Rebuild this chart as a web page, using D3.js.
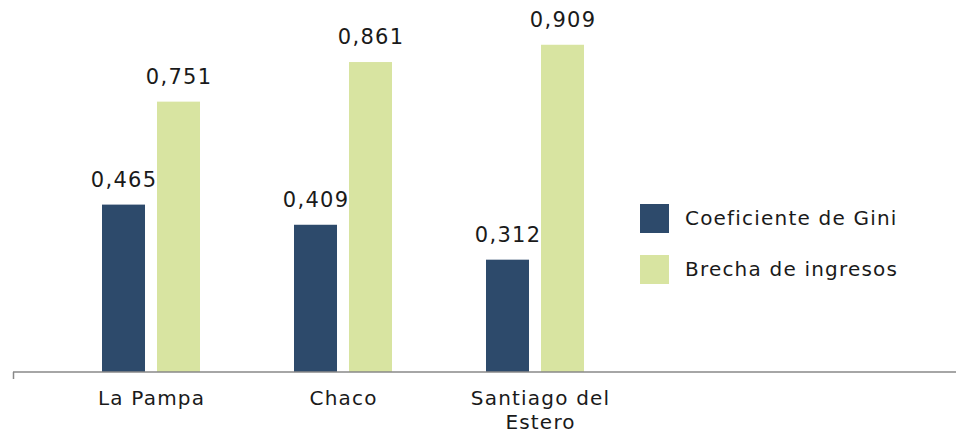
<!DOCTYPE html>
<html><head><meta charset="utf-8">
<script src="https://cdn.jsdelivr.net/npm/d3@7"></script>
<style>body{margin:0;background:#fff}svg{display:block;font-family:"DejaVu Sans",sans-serif}</style>
</head><body><svg id="c" width="956" height="434"></svg>
<script>
const categories = ["La Pampa", "Chaco", "Santiago del Estero"];
const categoryLines = [["La Pampa"], ["Chaco"], ["Santiago del", "Estero"]];
const seriesNames = ["Coeficiente de Gini", "Brecha de ingresos"];
const gini = [0.465, 0.409, 0.312];
const brecha = [0.751, 0.861, 0.909];
const colors = ["#2d4a6b", "#d8e4a1"];

const svg = d3.select("#c");
const x = d3.scaleBand().domain(categories).range([55, 631]).padding(0);
const xs = d3.scaleBand().domain(seriesNames).range([47, 145]).paddingInner(0.218).paddingOuter(0);
const y = d3.scaleLinear().domain([0, 1]).range([372, 12]);
const fmt = v => d3.format(".3f")(v).replace(".", ",");

const data = [];
categories.forEach((c, i) => {
  data.push({c, s: seriesNames[0], v: gini[i]});
  data.push({c, s: seriesNames[1], v: brecha[i]});
});

svg.selectAll("rect.bar").data(data).join("rect").attr("class","bar")
  .attr("x", d => x(d.c) + xs(d.s)).attr("width", xs.bandwidth())
  .attr("y", d => y(d.v)).attr("height", d => y(0) - y(d.v))
  .attr("fill", d => colors[seriesNames.indexOf(d.s)]);

svg.selectAll("text.val").data(data).join("text").attr("class","val")
  .attr("x", d => x(d.c) + xs(d.s) + xs.bandwidth()/2 + 0.6)
  .attr("y", d => y(d.v) - 18).attr("text-anchor","middle")
  .attr("font-size", 21).attr("letter-spacing", 1.3).attr("fill", "#1a1a1a").text(d => fmt(d.v));

// axis
svg.append("line").attr("x1", 13).attr("x2", 956).attr("y1", y(0)).attr("y2", y(0))
  .attr("stroke", "#888").attr("stroke-width", 1.5);
svg.append("line").attr("x1", 13.5).attr("x2", 13.5).attr("y1", y(0)).attr("y2", y(0)+7)
  .attr("stroke", "#888").attr("stroke-width", 1.5);

categories.forEach((c, i) => {
  const cx = x(c) + x.bandwidth()/2 + (i === 2 ? 5 : 0) + 0.6;
  const t = svg.append("text").attr("y", 405)
    .attr("text-anchor","middle").attr("font-size", 20).attr("letter-spacing", 1.2).attr("fill", "#1a1a1a");
  categoryLines[i].forEach((ln, j) => {
    t.append("tspan").attr("x", cx).attr("dy", j ? 24 : 0).text(ln);
  });
});

// legend
const lg = svg.append("g");
seriesNames.forEach((s, i) => {
  lg.append("rect").attr("x", 640).attr("y", 204 + i*51).attr("width", 29).attr("height", 29).attr("fill", colors[i]);
  lg.append("text").attr("x", 685).attr("y", 225 + i*51).attr("font-size", 20).attr("letter-spacing", 1.2).attr("fill", "#1a1a1a").text(s);
});
</script></body></html>
